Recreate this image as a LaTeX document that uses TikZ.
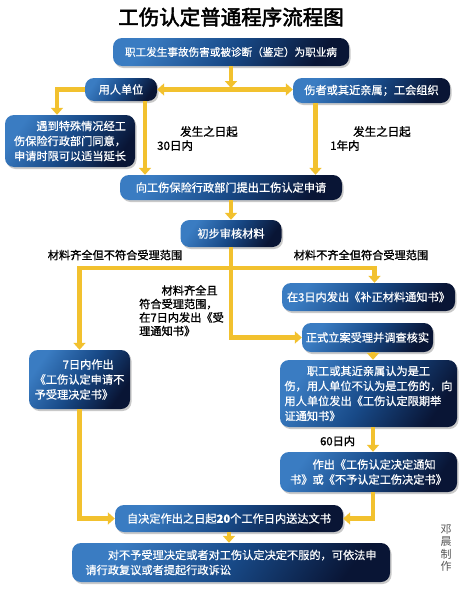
\documentclass[tikz,border=0pt]{standalone}
\usepackage{fontspec}
\usetikzlibrary{arrows.meta,shadows,calc}
\newfontfamily\cjk{Noto Sans CJK SC}
\newfontfamily\cjkm[FakeBold=0.7]{Noto Sans CJK SC}
\newfontfamily\cjkb[FakeBold=1.2]{Noto Sans CJK SC}
\newfontfamily\cjkt[FakeBold=2.5]{Noto Sans CJK SC}
\definecolor{bl}{HTML}{3A7CC2}
\definecolor{bm}{HTML}{184A88}
\definecolor{bd}{HTML}{091535}
\definecolor{yl}{HTML}{F2C12E}
\definecolor{credit}{HTML}{555555}
\tikzset{
  box/.style={rounded corners=9pt, left color=bl, right color=bd, middle color=bm, shading angle=55,
    text=white, font=\cjkm\fontsize{11.2}{15}\selectfont, align=left, inner sep=0pt,
    drop shadow={shadow xshift=1.5pt, shadow yshift=-2pt, opacity=0.35, fill=black!60}},
  ln/.style={draw=yl, line width=4.5pt},
  lbl/.style={font=\cjkb\fontsize{11.2}{13.5}\selectfont, text=black, inner sep=0pt, align=left},
}
\begin{document}
\begin{tikzpicture}[x=1pt,y=-1pt,>={Triangle[width=12pt,length=7pt]}]
\useasboundingbox[fill=white] (0,0) rectangle (466,589);

\node[font=\cjkt\fontsize{20.5}{21}\selectfont, inner sep=0pt] (title) at (231,17) {工伤认定普通程序流程图};

\node[box, font=\cjkm\fontsize{10.6}{13}\selectfont, minimum width=236pt, minimum height=28pt] (b1) at (231,52) {职工发生事故伤害或被诊断（鉴定）为职业病};
\node[box, minimum width=72pt, minimum height=23pt] (b2) at (121,89.5) {用人单位};
\node[box, minimum width=157pt, minimum height=25pt] (b3) at (371.5,90.5) {伤者或其近亲属；工会组织};
\node[box, minimum width=130pt, minimum height=52pt] (b4) at (70,141) {\hspace*{2em}遇到特殊情况经工\\伤保险行政部门同意，\\申请时限可以适当延长};
\node[box, minimum width=222pt, minimum height=25pt] (b5) at (231,187.5) {向工伤保险行政部门提出工伤认定申请};
\node[box, minimum width=101pt, minimum height=27pt] (b6) at (231,233.5) {初步审核材料};
\node[box, minimum width=173pt, minimum height=28pt] (b7) at (368.5,297) {在3日内发出《补正材料通知书》};
\node[box, minimum width=131pt, minimum height=29pt] (b8) at (367.5,337.5) {正式立案受理并调查核实};
\node[box, minimum width=101pt, minimum height=59pt] (b9) at (79.5,379.5) {\hspace*{2.5em}7日内作出\\《工伤认定申请不\\予受理决定书》};
\node[box, minimum width=177pt, minimum height=67pt] (b10) at (368.5,393.5) {\hspace*{2em}职工或其近亲属认为是工\\伤，用人单位不认为是工伤的，向\\用人单位发出《工伤认定限期举\\证通知书》};
\node[box, minimum width=177pt, minimum height=40pt] (b11) at (368.5,472) {\hspace*{2em}作出《工伤认定决定通知\\书》或《不予认定工伤决定书》};
\node[box, minimum width=228pt, minimum height=27pt] (b12) at (229,518.5) {自决定作出之日起\textbf{20}个工作日内送达文书};
\node[box, minimum width=318pt, minimum height=39pt] (b13) at (231,562.5) {\hspace*{2em}对不予受理决定或者对工伤认定决定不服的，可依法申\\请行政复议或者提起行政诉讼};

% labels
\node[lbl, font=\cjkb\fontsize{11.5}{14}\selectfont, anchor=north west] (l1) at (157,126) {\hspace*{2em}发生之日起\\30日内};
\node[lbl, font=\cjkb\fontsize{11.5}{14}\selectfont, anchor=north west] (l2) at (330,126) {\hspace*{2em}发生之日起\\1年内};
\node[lbl] (l3) at (115,255) {材料齐全但不符合受理范围};
\node[lbl] (l4) at (361,255) {材料不齐全但符合受理范围};
\node[lbl, anchor=north west] (l5) at (139,285) {\hspace*{2em}材料齐全且\\符合受理范围，\\在7日内发出《受\\理通知书》};
\node[lbl, anchor=west] (l6) at (320,441) {60日内};
\node[font=\cjk\fontsize{11}{12.5}\selectfont, text=credit, align=center, inner sep=0pt] (credit) at (446,548) {邓\\晨\\制\\作};

% connectors
\coordinate (j1) at (231,88);
\coordinate (j2) at (231,268);
\draw[ln,->] (b1.south) -- (j1);
\draw[ln,<->] (b2.east) -- (b2.east -| b3.west);
\draw[ln,->] (b2.west) -| ([xshift=-13pt]b4.north);
\draw[ln,->] ([xshift=24pt]b2.south) -- ([xshift=24pt]b2.south |- b5.north);
\draw[ln,->] ([xshift=-56pt]b3.south) -- ([xshift=-56pt]b3.south |- b5.north);
\draw[ln,->] (b5.south) -- (b5.south |- b6.north);
\draw[ln,->] (b6.south) |- (b8.west);
\draw[ln,->] (j2) -| (b9.north);
\draw[ln,->] (j2) -| ([xshift=6pt]b7.north);
\draw[ln,->] ([xshift=5.5pt]b8.south) -- ([xshift=5.5pt]b8.south |- b10.north);
\draw[ln,->] ([xshift=4.5pt]b10.south) -- ([xshift=4.5pt]b10.south |- b11.north);
\draw[ln,->] (b9.south) |- (b12.west);
\draw[ln,->] ([xshift=4.5pt]b11.south) |- (b12.east);
\draw[ln,->] (b12.south) -- (b12.south |- b13.north);
\end{tikzpicture}
\end{document}
